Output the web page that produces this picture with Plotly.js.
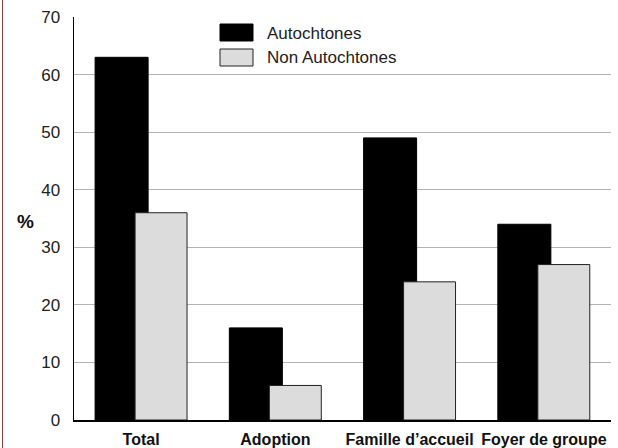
<!DOCTYPE html>
<html>
<head>
<meta charset="utf-8">
<script src="https://cdn.plot.ly/plotly-3.0.1.min.js"></script>
<style>
  html, body { margin: 0; padding: 0; background: #fff; }
  #chart { width: 618px; height: 448px; }
</style>
</head>
<body>
<div id="chart"></div>
<script>
const categories = ["Total", "Adoption", "Famille d\u2019accueil", "Foyer de groupe"];
const autochtones = [63, 16, 49, 34];
const nonAutochtones = [36, 6, 24, 27];
const seriesNames = ["Autochtones", "Non Autochtones"];
const yTicks = [0, 10, 20, 30, 40, 50, 60, 70];

const traces = [
  {
    type: "bar", x: categories, y: autochtones, name: seriesNames[0],
    width: 0.395, offset: -0.343,
    marker: { color: "#000000", line: { color: "#000000", width: 1 } },
    hoverinfo: "x+y"
  },
  {
    type: "bar", x: categories, y: nonAutochtones, name: seriesNames[1],
    width: 0.387, offset: -0.045,
    marker: { color: "#dcdcdc", line: { color: "#222222", width: 1 } },
    hoverinfo: "x+y"
  }
];

const L = 74, R = 611, T = 17, B = 420;
const pw = R - L, ph = B - T;
const px = v => (v - L) / pw;
const py = v => (B - v) / ph;

const layout = {
  width: 618, height: 448,
  margin: { l: L, r: 618 - R, t: T, b: 448 - B },
  paper_bgcolor: "#ffffff", plot_bgcolor: "#ffffff",
  barmode: "overlay",
  showlegend: false,
  font: { family: "Liberation Sans, Arial, sans-serif", color: "#222" },
  xaxis: {
    type: "category",
    showgrid: false,
    showline: true, linecolor: "#000", linewidth: 2,
    ticks: "",
    tickfont: { family: "Liberation Sans Narrow, Arial Narrow, Liberation Sans, sans-serif", size: 16, color: "#111", weight: "bold" },
    ticklabelstandoff: 4,
    fixedrange: true
  },
  yaxis: {
    range: [0, 70],
    tickvals: yTicks,
    ticktext: yTicks.map(String),
    showgrid: true, gridcolor: "#b4b4b4", gridwidth: 1,
    showline: true, linecolor: "#000", linewidth: 1.5,
    zeroline: false,
    ticks: "",
    ticklabelstandoff: 9,
    tickfont: { size: 17, color: "#222" },
    fixedrange: true
  },
  shapes: [
    { type: "rect", xref: "paper", yref: "paper", x0: px(220), x1: px(253), y0: py(41), y1: py(24),
      fillcolor: "#000", line: { color: "#000", width: 1 } },
    { type: "rect", xref: "paper", yref: "paper", x0: px(220), x1: px(253), y0: py(66), y1: py(49),
      fillcolor: "#dcdcdc", line: { color: "#222", width: 1 } },
    { type: "line", xref: "paper", yref: "paper", x0: px(2.5), x1: px(2.5), y0: py(448), y1: py(0),
      line: { color: "#8b3a3a", width: 1 } }
  ],
  annotations: [
    { xref: "paper", yref: "paper", x: px(265), y: py(33), xanchor: "left", yanchor: "middle",
      text: seriesNames[0], showarrow: false, font: { size: 17, color: "#222" } },
    { xref: "paper", yref: "paper", x: px(265), y: py(58), xanchor: "left", yanchor: "middle",
      text: seriesNames[1], showarrow: false, font: { size: 17, color: "#222" } },
    { xref: "paper", yref: "paper", x: px(25), y: py(221), xanchor: "center", yanchor: "middle",
      text: "%", showarrow: false, font: { size: 19, color: "#111", weight: "bold" } }
  ]
};

Plotly.newPlot("chart", traces, layout, { displayModeBar: false, staticPlot: true });
</script>
</body>
</html>
